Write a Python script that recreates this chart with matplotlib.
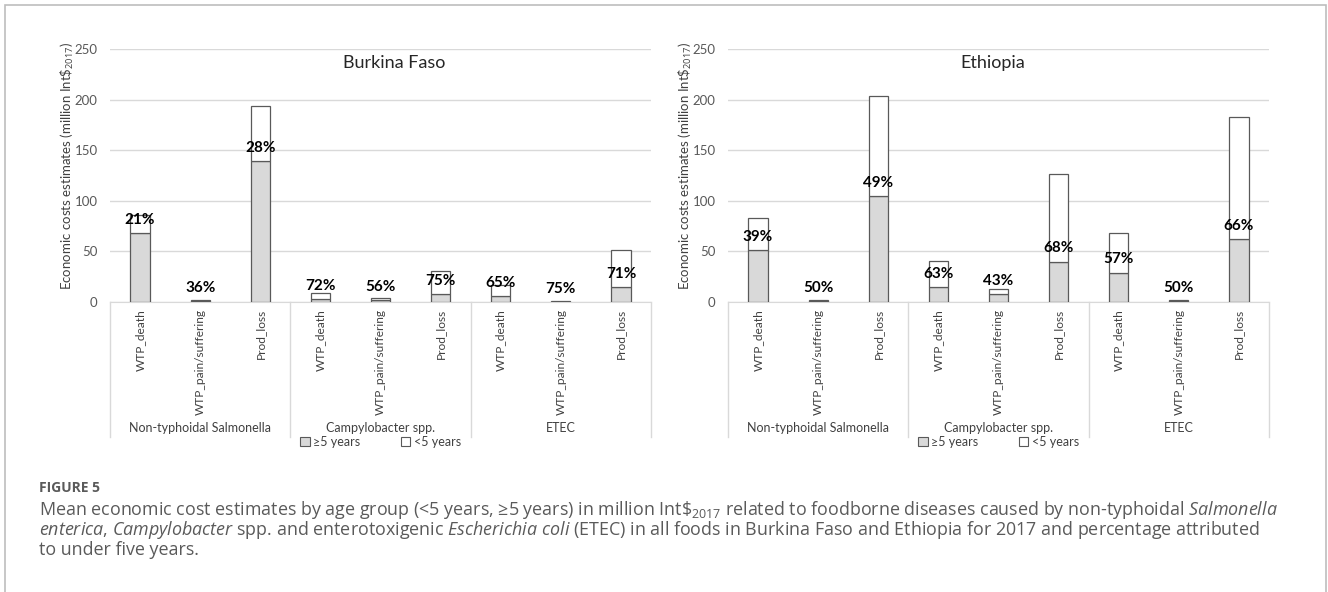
import matplotlib
matplotlib.use("Agg")
import matplotlib.pyplot as plt
import matplotlib.transforms as mtransforms
from matplotlib.patches import Patch, Rectangle

plt.rcParams['font.family'] = ['Lato', 'DejaVu Sans']
plt.rcParams['mathtext.fontset'] = 'custom'
plt.rcParams['mathtext.rm'] = 'Open Sans'
plt.rcParams['mathtext.it'] = 'Open Sans:italic'
plt.rcParams['mathtext.bf'] = 'Open Sans:bold'

# data (million Int$ 2017)
measures = ['WTP_death', 'WTP_pain/suffering', 'Prod_loss'] * 3
pathogens = ['Non-typhoidal Salmonella', 'Campylobacter spp.', 'ETEC']

bf_over5 = [68, 1.0, 139, 2.5, 1.5, 7.5, 6, 0.3, 14.8]
bf_under5 = [18, 0.55, 55, 6.5, 2.0, 23.5, 11, 0.8, 36.2]
bf_pct = ['21%', '36%', '28%', '72%', '56%', '75%', '65%', '75%', '71%']

et_over5 = [51, 1.0, 105, 15, 7.5, 40, 29, 1.0, 62]
et_under5 = [32, 1.0, 99, 26, 5.5, 86, 39, 1.0, 121]
et_pct = ['39%', '50%', '49%', '63%', '43%', '68%', '57%', '50%', '66%']

W, H = 1328, 592
fig = plt.figure(figsize=(W / 100, H / 100), dpi=100)

edge = '#595959'
grid = '#d9d9d9'
ylab = 'Economic costs estimates (million Int\\$$_{2017}$)'


def panel(left_px, over5, under5, pct, title, title_x):
    base = 302
    ax_h = 253
    ax = fig.add_axes([left_px / W, (H - base) / H, 541 / W, ax_h / H])
    x = list(range(len(measures)))
    ax.bar(x, over5, width=0.32, color='#d9d9d9', edgecolor=edge, linewidth=0.9, zorder=3)
    ax.bar(x, under5, width=0.32, bottom=over5, color='white', edgecolor=edge, linewidth=0.9, zorder=3)
    for i in x:
        ax.annotate(pct[i], (i, over5[i]), xytext=(0, 9.5), textcoords='offset points',
                    ha='center', va='center', fontsize=11, fontweight='bold', color='black', zorder=4)
    ax.set_xlim(-0.5, 8.5)
    ax.set_ylim(0, 250)
    ax.set_yticks([0, 50, 100, 150, 200, 250])
    ax.grid(axis='y', color=grid, linewidth=1)
    ax.set_axisbelow(True)
    for s in ['top', 'right', 'left']:
        ax.spines[s].set_visible(False)
    ax.spines['bottom'].set_color(grid)
    ax.tick_params(axis='y', length=0, pad=9, labelsize=9.5, labelcolor='#595959')
    ax.set_xticks(x)
    ax.set_xticklabels(measures, rotation=90, va='top', ha='center', fontsize=8.6, color='#404040')
    ax.tick_params(axis='x', length=0, pad=5)

    trans = mtransforms.blended_transform_factory(ax.transData, ax.transAxes)
    for xs in [-0.5, 2.5, 5.5, 8.5]:
        ax.plot([xs, xs], [0, -135 / ax_h], transform=trans, color=grid, linewidth=1, clip_on=False)
    for g, name in enumerate(pathogens):
        ax.text(g * 3 + 1, -126 / ax_h, name, transform=trans, ha='center', va='center',
                fontsize=9, color='#404040')

    handles = [Patch(facecolor='#d9d9d9', edgecolor=edge, linewidth=0.8, label='≥5 years'),
               Patch(facecolor='white', edgecolor=edge, linewidth=0.8, label='<5 years')]
    ax.legend(handles=handles, loc='center', bbox_to_anchor=(0.5, -140 / ax_h), ncol=2,
              frameon=False, fontsize=9, handlelength=0.75, handleheight=0.75,
              handletextpad=0.3, columnspacing=3.2, labelcolor='#404040')

    ax.text(title_x, (base - 63) / ax_h, title, transform=ax.transAxes, ha='center',
            va='center', fontsize=13, color='#262626')
    fig.text((left_px - 43) / W, (H - 166) / H, ylab, rotation=90, ha='center', va='center',
             fontsize=9.5, color='#404040')
    return ax


panel(110, bf_over5, bf_under5, bf_pct, 'Burkina Faso', 0.525)
panel(728, et_over5, et_under5, et_pct, 'Ethiopia', 0.49)

# caption
cap_col = '#5a5a5a'
fig.text(39 / W, (H - 492) / H, 'FIGURE 5', ha='left', va='baseline', fontsize=10,
         fontweight='bold', color=cap_col, family='Open Sans')
lines = [
    'Mean economic cost estimates by age group (<5 years, ≥5 years) in million Int\\$$_{2017}$ '
    'related to foodborne diseases caused by non-typhoidal $\\mathit{Salmonella}$',
    '$\\mathit{enterica}$, $\\mathit{Campylobacter}$ spp. and enterotoxigenic '
    '$\\mathit{Escherichia\\ coli}$ (ETEC) in all foods in Burkina Faso and Ethiopia for 2017 '
    'and percentage attributed',
    'to under five years.',
]
for k, line in enumerate(lines):
    fig.text(39 / W, (H - 515 - 20 * k) / H, line, ha='left', va='baseline', fontsize=12.9,
             color=cap_col, family='Open Sans')

fig.patches.append(Rectangle((5 / W, -5 / H), 1321 / W, 592 / H, transform=fig.transFigure,
                             fill=False, edgecolor='#bdbdbd', linewidth=1.2))

fig.savefig('out.png', dpi=100)
